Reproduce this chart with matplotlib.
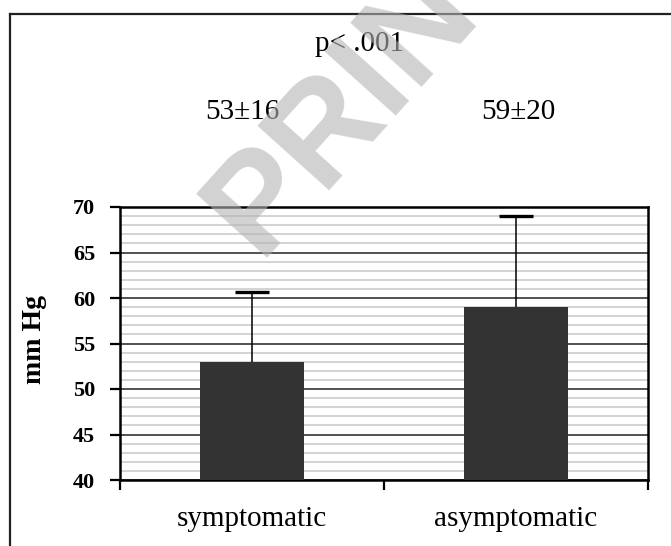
import numpy as np
from matplotlib import pyplot as plt
from matplotlib.lines import Line2D

plt.rcParams['font.family'] = ['Liberation Serif', 'DejaVu Serif']

groups = ['symptomatic', 'asymptomatic']
means = [53, 59]
err_up = [7.7, 10.0]
value_labels = ['53\u00b116', '59\u00b120']
p_text = 'p< .001'
ylabel = 'mm Hg'

W, H = 671, 546
fig = plt.figure(figsize=(W / 100, H / 100), dpi=100)

# outer frame (only top and left edge visible in the original crop)
fig.add_artist(Line2D([10 / W, 10 / W], [0, 1 - 14 / H], color='#222222', lw=1.6))
fig.add_artist(Line2D([10 / W, 1], [1 - 14 / H, 1 - 14 / H], color='#222222', lw=1.6))

ax = fig.add_axes([120 / W, 66 / H, 528 / W, 273 / H])
x = np.arange(len(groups))
ax.bar(x, means, width=0.394, color='#333333', zorder=3)

# only the upper half of the error bar is drawn
tops = np.array(means) + np.array(err_up)
ax.vlines(x, means, tops, color='black', lw=1.1, zorder=4)
ax.plot(x, tops, ls='none', marker='_', markersize=24, mew=2.4, color='black', zorder=4)

ax.set_ylim(40, 70)
ax.set_xlim(-0.5, 1.5)
ax.set_yticks(np.arange(40, 71, 5))
ax.set_yticks(np.arange(40, 71, 1), minor=True)
ax.grid(axis='y', which='minor', color='#c8c8c8', lw=1.1, zorder=1)
ax.grid(axis='y', which='major', color='#222222', lw=1.1, zorder=2)
ax.set_axisbelow(True)

ax.set_xticks([-0.5, 0.5, 1.5])
ax.set_xticklabels([])
ax.set_xticks(x, minor=True)
ax.set_xticklabels(groups, minor=True, fontsize=21)
ax.tick_params(axis='x', which='minor', length=0, pad=19)
ax.tick_params(axis='x', which='major', length=7, width=1.6, direction='out')
ax.tick_params(axis='y', which='major', length=7, width=1.6, direction='out', pad=11,
               labelsize=16)
ax.tick_params(axis='y', which='minor', length=0)
for lab in ax.get_yticklabels():
    lab.set_fontweight('bold')

for s in ax.spines.values():
    s.set_linewidth(1.8)
    s.set_color('black')

ax.set_ylabel(ylabel, fontsize=20, fontweight='bold')
ax.yaxis.set_label_coords(-0.138, 0.513)

# texts above the plot
fig.text(360 / W, 1 - 44 / H, p_text, fontsize=21, ha='center', va='center')
for xc, t in zip([242, 518], value_labels):
    fig.text(xc / W, 1 - 112 / H, t, fontsize=21, ha='center', va='center')

# watermark
fig.text(258 / W, 1 - 258 / H, 'PRINT', family='Liberation Sans', fontweight='bold',
         fontsize=100, color='#b4b4b4', alpha=0.6, rotation=48,
         rotation_mode='anchor', ha='left', va='baseline', zorder=10)

fig.savefig('out.png', dpi=100)
